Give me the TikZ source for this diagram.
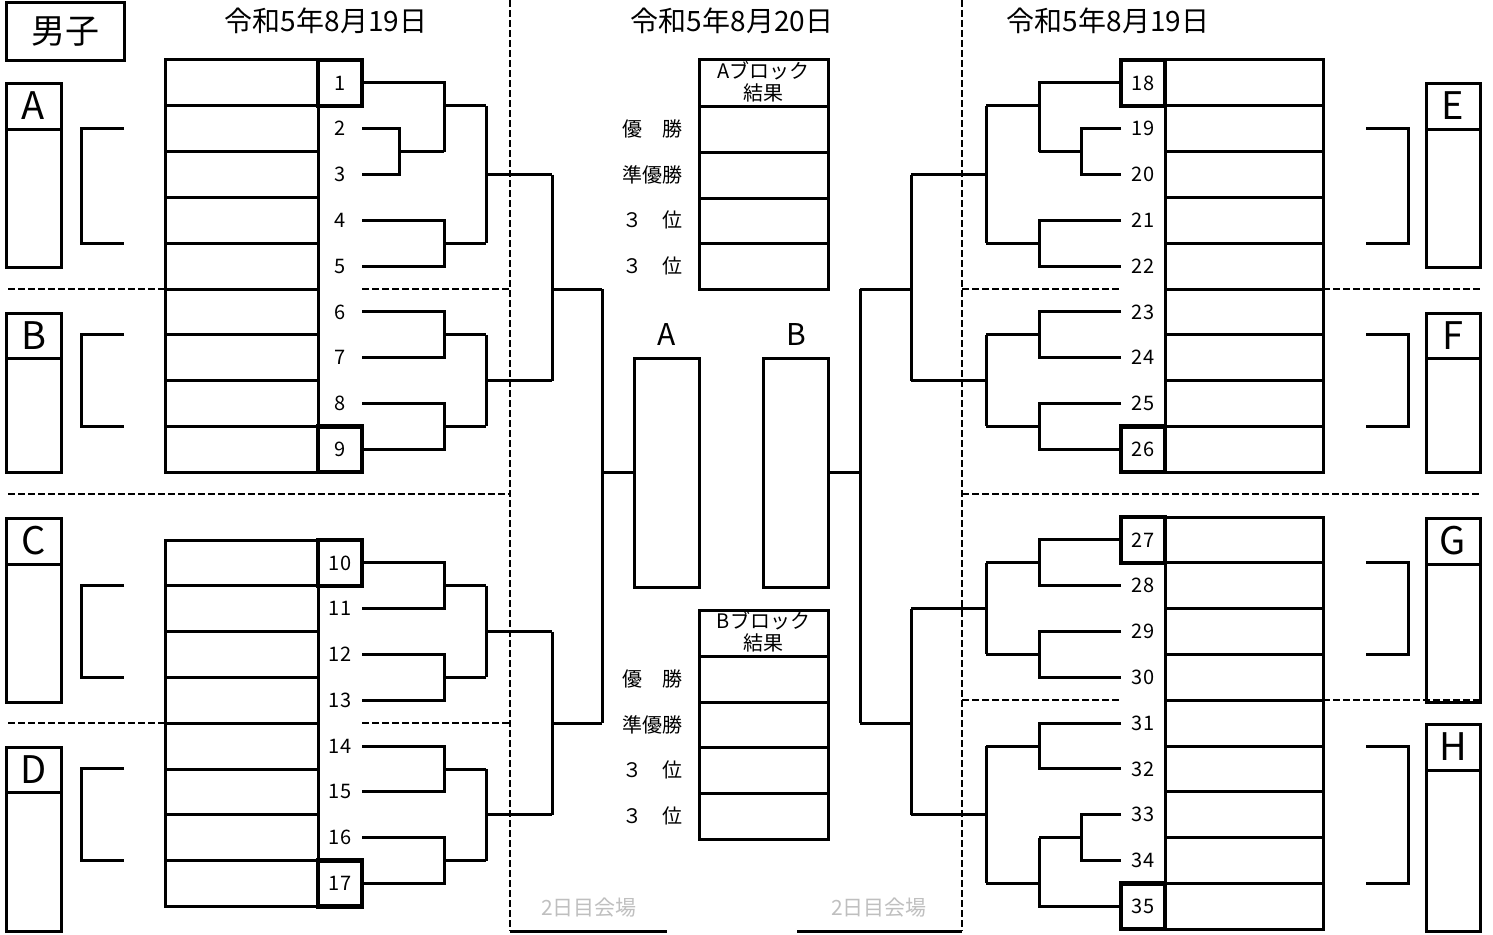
\documentclass[tikz,border=0pt]{standalone}
\usepackage{fontspec}
\setmainfont{Noto Sans CJK JP}
\begin{document}
\begin{tikzpicture}[x=1pt,y=-1pt,
  ln/.style={line width=3pt, line join=miter},
  dsh/.style={line width=2.5pt, dash pattern=on 7pt off 3pt},
  num/.style={minimum width=44pt, minimum height=45.8pt, inner sep=0pt, outer sep=0pt, font=\fontsize{20}{20}\selectfont},
  numbox/.style={num, draw, line width=4.5pt},
  datelbl/.style={font=\fontsize{28}{28}\selectfont, inner sep=0pt},
  sidelbl/.style={font=\fontsize{38}{38}\selectfont, inner sep=0pt},
  reslbl/.style={font=\fontsize{20}{20}\selectfont, inner sep=0pt},
  hdrlbl/.style={font=\fontsize{20}{20}\selectfont, inner sep=0pt},
  venue/.style={font=\fontsize{21}{21}\selectfont, text=black!25, inner sep=0pt},
  finbox/.style={draw, line width=3pt, minimum width=65pt, minimum height=229pt, inner sep=0pt, outer sep=0pt}]
\fill[white] (0,0) rectangle (1493,934);
\useasboundingbox (0,0) rectangle (1493,934);

% title box
\draw[line width=3pt] (6,3) rectangle (124,61);
\node[font=\fontsize{34}{34}\selectfont, inner sep=0pt] (title) at (65,32) {男子};

% dates
\node[datelbl] (d1) at (326,21) {令和5年8月19日};
\node[datelbl] (d2) at (732,21) {令和5年8月20日};
\node[datelbl] (d3) at (1108,21) {令和5年8月19日};

% dashed separators
\draw[dsh] (510,0) -- (510,931);
\draw[dsh] (962,0) -- (962,931);
\draw[dsh] (8,289) -- (165,289);
\draw[dsh] (362,289) -- (510,289);
\draw[dsh] (8,494) -- (510,494);
\draw[dsh] (8,723.2) -- (165,723.2);
\draw[dsh] (362,723.2) -- (510,723.2);
\draw[dsh] (962,289) -- (1121,289);
\draw[dsh] (1323,289) -- (1480,289);
\draw[dsh] (962,494) -- (1480,494);
\draw[dsh] (962,700.2) -- (1121,700.2);
\draw[dsh] (1323,700.2) -- (1480,700.2);
\draw[ln] (510,931) -- (667,931);
\draw[ln] (797,931) -- (962,931);

% left side boxes and brackets
\draw[ln] (6,83) rectangle (61,267); \draw[ln] (6,129) -- (61,129);
\node[sidelbl] (sA) at (33.5,106) {A};
\draw[ln] (124,128.7) -| (81,243.2) -- (124,243.2);
\draw[ln] (6,313) rectangle (61,472); \draw[ln] (6,358) -- (61,358);
\node[sidelbl] (sB) at (33.5,335.5) {B};
\draw[ln] (124,334.8) -| (81,426.4) -- (124,426.4);
\draw[ln] (6,518) rectangle (61,702); \draw[ln] (6,564) -- (61,564);
\node[sidelbl] (sC) at (33.5,541) {C};
\draw[ln] (124,585.7) -| (81,677.3) -- (124,677.3);
\draw[ln] (6,747) rectangle (61,931); \draw[ln] (6,792) -- (61,792);
\node[sidelbl] (sD) at (33.5,769.5) {D};
\draw[ln] (124,768.9) -| (81,860.5) -- (124,860.5);

% right side boxes and brackets
\draw[ln] (1426,83) rectangle (1480,267); \draw[ln] (1426,129) -- (1480,129);
\node[sidelbl] (sE) at (1453,106) {E};
\draw[ln] (1366,128.7) -| (1408,243.2) -- (1366,243.2);
\draw[ln] (1426,313) rectangle (1480,472); \draw[ln] (1426,358) -- (1480,358);
\node[sidelbl] (sF) at (1453,335.5) {F};
\draw[ln] (1366,334.8) -| (1408,426.4) -- (1366,426.4);
\draw[ln] (1426,518) rectangle (1480,702); \draw[ln] (1426,564) -- (1480,564);
\node[sidelbl] (sG) at (1453,541) {G};
\draw[ln] (1366,562.8) -| (1408,654.4) -- (1366,654.4);
\draw[ln] (1426,724) rectangle (1480,931); \draw[ln] (1426,770) -- (1480,770);
\node[sidelbl] (sH) at (1453,747) {H};
\draw[ln] (1366,746) -| (1408,883.4) -- (1366,883.4);

% left tables
\draw[ln] (165,60) rectangle (318,472.2);
\foreach \y in {105.8,151.6,197.4,243.2,289,334.8,380.6,426.4} \draw[ln] (165,\y) -- (318,\y);
\draw[ln] (165,540) rectangle (318,906.4);
\foreach \y in {585.8,631.6,677.4,723.2,769,814.8,860.6} \draw[ln] (165,\y) -- (318,\y);
% right tables
\draw[ln] (1165,60) rectangle (1323,472.2);
\foreach \y in {105.8,151.6,197.4,243.2,289,334.8,380.6,426.4} \draw[ln] (1165,\y) -- (1323,\y);
\draw[ln] (1165,517) rectangle (1323,929.2);
\foreach \y in {562.8,608.6,654.4,700.2,746,791.8,837.6,883.4} \draw[ln] (1165,\y) -- (1323,\y);

% number nodes left
\node[numbox] (n1) at (340,82.9) {1};
\foreach \i/\y in {2/128.7,3/174.5,4/220.3,5/266.1,6/311.9,7/357.7,8/403.5}
  \node[num] (n\i) at (340,\y) {\i};
\node[numbox] (n9) at (340,449.3) {9};
\node[numbox] (n10) at (340,562.9) {10};
\foreach \i/\y in {11/608.7,12/654.5,13/700.3,14/746.1,15/791.9,16/837.7}
  \node[num] (n\i) at (340,\y) {\i};
\node[numbox] (n17) at (340,883.5) {17};
% number nodes right
\node[numbox] (n18) at (1143,82.9) {18};
\foreach \i/\y in {19/128.7,20/174.5,21/220.3,22/266.1,23/311.9,24/357.7,25/403.5}
  \node[num] (n\i) at (1143,\y) {\i};
\node[numbox] (n26) at (1143,449.3) {26};
\node[numbox] (n27) at (1143,539.9) {27};
\foreach \i/\y in {28/585.7,29/631.5,30/677.3,31/723.1,32/768.9,33/814.7,34/860.5}
  \node[num] (n\i) at (1143,\y) {\i};
\node[numbox] (n35) at (1143,906.3) {35};

% final boxes
\node[font=\fontsize{30}{30}\selectfont, inner sep=0pt] (la) at (667,335) {A};
\node[font=\fontsize{30}{30}\selectfont, inner sep=0pt] (lb) at (796,335) {B};
\node[finbox] (boxA) at (666.5,472.5) {};
\node[finbox] (boxB) at (795.5,472.5) {};

% left brackets
\draw[ln] (n2.east) -| (399,151.6) |- (n3.east);
\draw[ln] (399,151.6) -- (444,151.6);
\draw[ln] (n1.east) -| (444,151.6);
\draw[ln] (444,105.8) -- (486,105.8);
\draw[ln] (n4.east) -| (444,243.2) |- (n5.east);
\draw[ln] (444,243.2) -- (486,243.2);
\draw[ln] (486,105.8) -- (486,243.2);
\draw[ln] (486,174.5) -- (552,174.5);
\draw[ln] (n6.east) -| (444,334.8) |- (n7.east);
\draw[ln] (444,334.8) -- (486,334.8);
\draw[ln] (n8.east) -| (444,426.4) |- (n9.east);
\draw[ln] (444,426.4) -- (486,426.4);
\draw[ln] (486,334.8) -- (486,426.4);
\draw[ln] (486,380.6) -- (552,380.6);
\draw[ln] (552,174.5) -- (552,380.6);
\draw[ln] (552,289) -- (602,289);
\draw[ln] (n10.east) -| (444,585.8) |- (n11.east);
\draw[ln] (444,585.8) -- (486,585.8);
\draw[ln] (n12.east) -| (444,677.4) |- (n13.east);
\draw[ln] (444,677.4) -- (486,677.4);
\draw[ln] (486,585.8) -- (486,677.4);
\draw[ln] (486,631.6) -- (552,631.6);
\draw[ln] (n14.east) -| (444,769) |- (n15.east);
\draw[ln] (444,769) -- (486,769);
\draw[ln] (n16.east) -| (444,860.6) |- (n17.east);
\draw[ln] (444,860.6) -- (486,860.6);
\draw[ln] (486,769) -- (486,860.6);
\draw[ln] (486,814.8) -- (552,814.8);
\draw[ln] (552,631.6) -- (552,814.8);
\draw[ln] (552,723.2) -- (602,723.2);
\draw[ln] (602,289) -- (602,723.2);
\draw[ln] (602,472.5) -- (boxA.west);

% right brackets
\draw[ln] (n19.west) -| (1081,151.6) |- (n20.west);
\draw[ln] (1081,151.6) -- (1039,151.6);
\draw[ln] (n18.west) -| (1039,151.6);
\draw[ln] (1039,105.8) -- (986,105.8);
\draw[ln] (n21.west) -| (1039,243.2) |- (n22.west);
\draw[ln] (1039,243.2) -- (986,243.2);
\draw[ln] (986,105.8) -- (986,243.2);
\draw[ln] (986,174.5) -- (911,174.5);
\draw[ln] (n23.west) -| (1039,334.8) |- (n24.west);
\draw[ln] (1039,334.8) -- (986,334.8);
\draw[ln] (n25.west) -| (1039,426.4) |- (n26.west);
\draw[ln] (1039,426.4) -- (986,426.4);
\draw[ln] (986,334.8) -- (986,426.4);
\draw[ln] (986,380.6) -- (911,380.6);
\draw[ln] (911,174.5) -- (911,380.6);
\draw[ln] (911,289) -- (860,289);
\draw[ln] (n27.west) -| (1039,562.8) |- (n28.west);
\draw[ln] (1039,562.8) -- (986,562.8);
\draw[ln] (n29.west) -| (1039,654.4) |- (n30.west);
\draw[ln] (1039,654.4) -- (986,654.4);
\draw[ln] (986,562.8) -- (986,654.4);
\draw[ln] (986,608.6) -- (911,608.6);
\draw[ln] (n31.west) -| (1039,746) |- (n32.west);
\draw[ln] (1039,746) -- (986,746);
\draw[ln] (n33.west) -| (1081,837.6) |- (n34.west);
\draw[ln] (1081,837.6) -- (1039,837.6);
\draw[ln] (n35.west) -| (1039,837.6);
\draw[ln] (1039,883.4) -- (986,883.4);
\draw[ln] (986,746) -- (986,883.4);
\draw[ln] (986,814.7) -- (911,814.7);
\draw[ln] (911,608.6) -- (911,814.7);
\draw[ln] (911,723.2) -- (860,723.2);
\draw[ln] (860,289) -- (860,723.2);
\draw[ln] (boxB.east) -- (860,472.5);

% result tables
\draw[ln] (699,60) rectangle (828,289);
\foreach \y in {106,152,198,243} \draw[ln] (699,\y) -- (828,\y);
\node[hdrlbl] (ha1) at (763.5,71) {Aブロック};
\node[hdrlbl] (ha2) at (763.5,93) {結果};
\node[reslbl] (ra1) at (652,129) {優　勝};
\node[reslbl] (ra2) at (652,175) {準優勝};
\node[reslbl] (ra3) at (652,220) {３　位};
\node[reslbl] (ra4) at (652,266) {３　位};
\draw[ln] (699,610) rectangle (828,839);
\foreach \y in {656,702,747,793} \draw[ln] (699,\y) -- (828,\y);
\node[hdrlbl] (hb1) at (763.5,621) {Bブロック};
\node[hdrlbl] (hb2) at (763.5,643) {結果};
\node[reslbl] (rb1) at (652,679) {優　勝};
\node[reslbl] (rb2) at (652,725) {準優勝};
\node[reslbl] (rb3) at (652,770) {３　位};
\node[reslbl] (rb4) at (652,816) {３　位};

% venue labels
\node[venue] (v1) at (589,908) {2日目会場};
\node[venue] (v2) at (879,908) {2日目会場};
\end{tikzpicture}
\end{document}
